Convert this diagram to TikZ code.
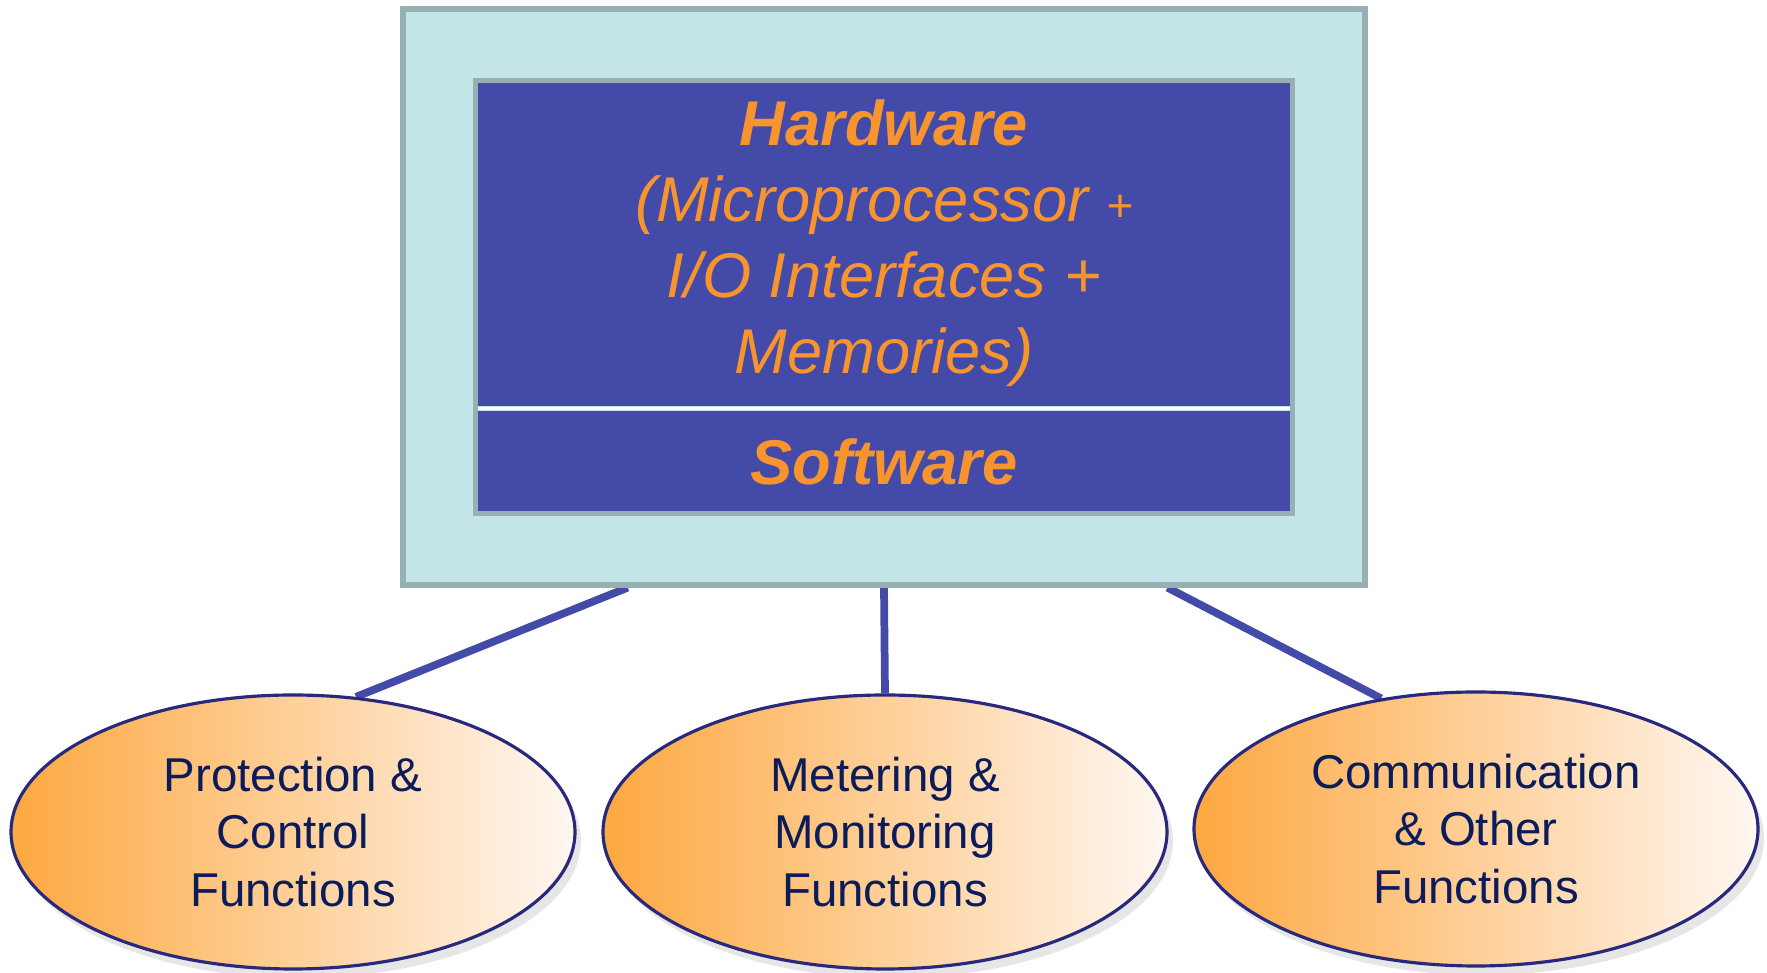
\documentclass[tikz,border=0pt]{standalone}
\usepackage{fontspec}
\setmainfont{Liberation Sans}
\usepackage{tikz}
\usetikzlibrary{calc}
\usetikzlibrary{shapes.geometric,shadows,backgrounds}
\usepackage{xcolor}
\definecolor{boardfill}{RGB}{197,230,232}
\definecolor{boardline}{RGB}{150,176,180}
\definecolor{chipblue}{RGB}{67,74,168}
\definecolor{chiptext}{RGB}{247,148,45}
\definecolor{funcleft}{RGB}{253,168,64}
\definecolor{funcright}{RGB}{255,247,242}
\definecolor{functext}{RGB}{12,28,90}
\definecolor{funcline}{RGB}{40,40,125}

\begin{document}
\begin{tikzpicture}[x=0.1mm,y=-0.1mm,
    chip/.style={fill=chipblue, minimum width=81.6mm, inner sep=0pt,
        text=chiptext, align=center, font=\fontsize{18}{21.6}\selectfont},
    func/.style={ellipse, draw=funcline, line width=0.9pt, inner sep=0pt,
        minimum width=56.4mm, minimum height=27.4mm,
        left color=funcleft, right color=funcright,
        drop shadow={opacity=0.2, shadow xshift=0.6mm, shadow yshift=-0.9mm},
        text=functext, align=center, font=\fontsize{13.5}{16.3}\selectfont},
    link/.style={chipblue, line width=2.2pt}]
    \useasboundingbox (0,0) rectangle (1767,973);

    % Board
    \node[draw=boardline, fill=boardfill, line width=1.5pt,
        minimum width=96.2mm, minimum height=57.6mm, inner sep=0pt] (board) at (884,297) {};

    % Hardware / Software
    \node[chip, minimum height=32.5mm] (hw) at (884,243.5) {%
        \textbf{\textit{Hardware}}\\
        \textit{(Microprocessor {\fontsize{13}{15}\selectfont +}}\\
        \textit{I/O Interfaces +}\\
        \textit{Memories)}};
    \node[chip, minimum height=10.2mm] (sw) at (884,462) {\textbf{\textit{Software}}};
    \fill[white] (hw.south west) rectangle (sw.north east);
    \draw[boardline, line width=1.5pt] (hw.north west) rectangle (sw.south east);

    % Functions
    \foreach \name/\x/\y/\txt in {
        prot/293/832/{Protection \&\\Control\\Functions},
        meter/885/832/{Metering \&\\Monitoring\\Functions},
        comm/1476/829/{Communication\\\& Other\\Functions}}
    {
    \node[func] (\name) at (\x,\y) {\txt};
    }

    % Links
    \begin{scope}[on background layer]
    \draw[link] ($(board.south west)!0.235!(board.south east)$) -- (prot.65);
    \draw[link] (board.south) -- (meter.north);
    \draw[link] ($(board.south west)!0.793!(board.south east)$) -- (comm.126);
    \end{scope}
\end{tikzpicture}
\end{document}
